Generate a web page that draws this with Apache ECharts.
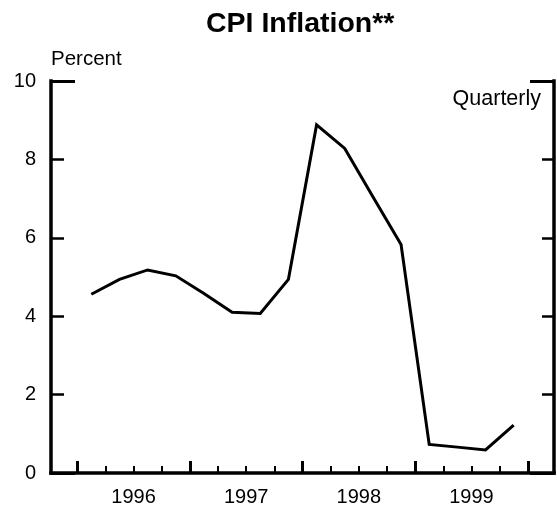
<!DOCTYPE html>
<html>
<head>
<meta charset="utf-8">
<script src="https://cdn.jsdelivr.net/npm/echarts@6/dist/echarts.min.js"></script>
<style>
html,body{margin:0;padding:0;background:#fff;}
#c{width:557px;height:510px;}
</style>
</head>
<body>
<div id="c"></div>
<script>
// ---- data ----
var quarters = ['1996Q1','1996Q2','1996Q3','1996Q4','1997Q1','1997Q2','1997Q3','1997Q4',
                '1998Q1','1998Q2','1998Q3','1998Q4','1999Q1','1999Q2','1999Q3','1999Q4'];
var cpiInflation = [4.56, 4.94, 5.18, 5.03, 4.58, 4.10, 4.07, 4.94,
                    8.88, 8.28, 7.05, 5.83, 0.73, 0.66, 0.59, 1.22];
var yearTicks = [1996, 1997, 1998, 1999, 2000];
var yearLabels = ['1996', '1997', '1998', '1999'];
var yTicks = [0, 2, 4, 6, 8, 10];

// ---- derived ----
function qToX(s){ var y = parseInt(s.slice(0,4),10); var q = parseInt(s.slice(5),10); return y + (q - 0.5) / 4; }
var seriesData = quarters.map(function(q, i){ return [qToX(q), cpiInflation[i]]; });
var quarterBounds = [];
for (var y = yearTicks[0] - 1; y <= yearTicks[yearTicks.length-1]; y++) {
  for (var k = 0; k < 4; k++) quarterBounds.push(y + k / 4);
}
var labelPos = yearLabels.map(function(l){ return parseInt(l,10) + 0.5; });

var FONT = "'Liberation Sans', Arial, Helvetica, sans-serif";
var XMIN = 1995.767, XMAX = 2000.233;

var chart = echarts.init(document.getElementById('c'), null, {renderer:'canvas'});
chart.setOption({
  animation: false,
  backgroundColor: '#ffffff',
  title: [{
    text: 'CPI Inflation**',
    left: 206, top: 10, padding: 0,
    textStyle: {fontFamily: FONT, fontSize: 28.5, fontWeight: 'bold', color: '#000'}
  }, {
    text: 'Quarterly',
    right: 16, top: 88, padding: 0,
    textStyle: {fontFamily: FONT, fontSize: 21.5, fontWeight: 'normal', color: '#000'}
  }],
  grid: {left: 51, right: 3, top: 81, bottom: 37, containLabel: false},
  xAxis: [{
    type: 'value', min: XMIN, max: XMAX, position: 'bottom',
    axisLine: {show: true, lineStyle: {color: '#000', width: 3.5, cap: 'square'}},
    axisTick: {show: true, inside: true, length: 12, customValues: yearTicks, lineStyle: {color: '#000', width: 3}},
    axisLabel: {show: true, margin: 14, customValues: labelPos,
      formatter: function(v){ return String(Math.floor(v)); },
      fontFamily: FONT, fontSize: 20, color: '#000'},
    splitLine: {show: false}
  }, {
    type: 'value', min: XMIN, max: XMAX, position: 'bottom',
    axisLine: {show: false},
    axisTick: {show: true, inside: true, length: 7, customValues: quarterBounds, lineStyle: {color: '#000', width: 2}},
    axisLabel: {show: false},
    splitLine: {show: false}
  }],
  yAxis: [{
    type: 'value', min: 0, max: 10, interval: 2, position: 'left',
    name: 'Percent', nameLocation: 'end', nameGap: 22,
    nameTextStyle: {fontFamily: FONT, fontSize: 20.5, color: '#000', align: 'left', verticalAlign: 'middle'},
    axisLine: {show: true, lineStyle: {color: '#000', width: 3.5, cap: 'square'}},
    axisTick: {show: true, inside: true, length: 13, lineStyle: {color: '#000', width: 2.5}},
    axisLabel: {show: true, margin: 15, fontFamily: FONT, fontSize: 20, color: '#000'},
    splitLine: {show: false}
  }, {
    type: 'value', min: 0, max: 10, interval: 10, position: 'left',
    axisLine: {show: false},
    axisTick: {show: true, inside: true, length: 24, lineStyle: {color: '#000', width: 3}},
    axisLabel: {show: false},
    splitLine: {show: false}
  }, {
    type: 'value', min: 0, max: 10, interval: 2, position: 'right',
    axisLine: {show: true, lineStyle: {color: '#000', width: 3.5, cap: 'square'}},
    axisTick: {show: true, inside: true, length: 12, lineStyle: {color: '#000', width: 2.5}},
    axisLabel: {show: false},
    splitLine: {show: false}
  }, {
    type: 'value', min: 0, max: 10, interval: 10, position: 'right',
    axisLine: {show: false},
    axisTick: {show: true, inside: true, length: 24, lineStyle: {color: '#000', width: 3}},
    axisLabel: {show: false},
    splitLine: {show: false}
  }],
  series: [{
    type: 'line',
    xAxisIndex: 0, yAxisIndex: 0,
    data: seriesData,
    showSymbol: false,
    symbol: 'none',
    lineStyle: {color: '#000', width: 3, join: 'miter'},
    silent: true
  }]
});
</script>
</body>
</html>
